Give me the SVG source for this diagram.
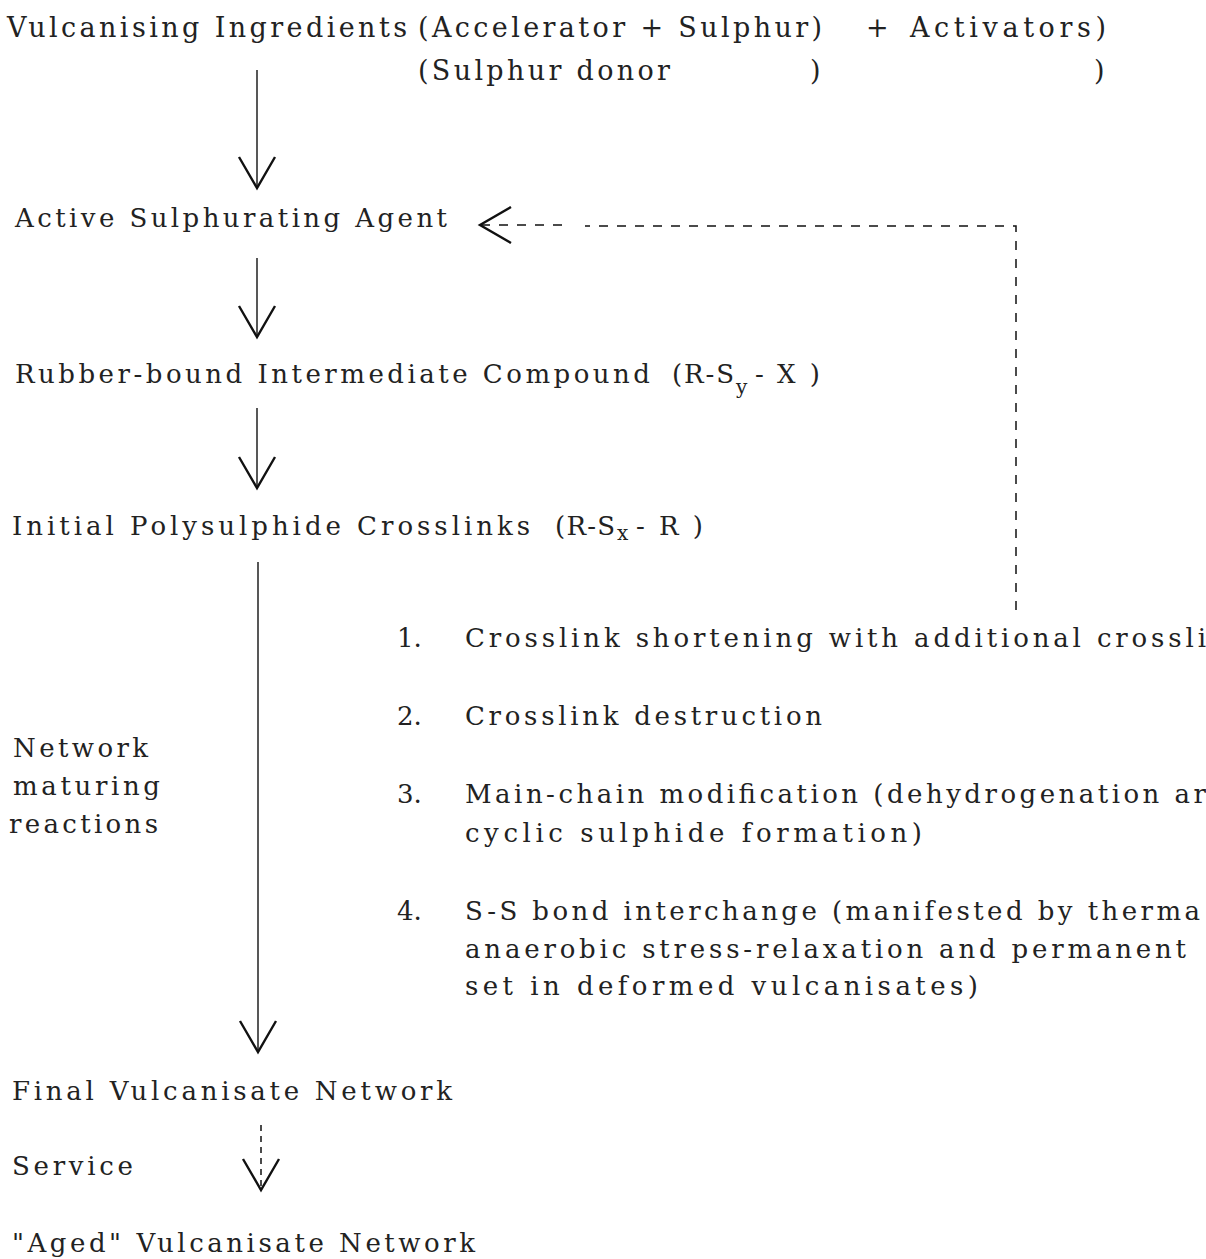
<svg xmlns="http://www.w3.org/2000/svg" width="1206" height="1259" viewBox="0 0 1206 1259">
<style>
text{font-family:"DejaVu Serif","Liberation Serif",serif;font-size:26px;fill:#222}
.top{font-size:27px}
.sub{font-size:20px}
.ln{stroke:#111;stroke-width:1.4;fill:none}
.dash{stroke:#111;stroke-width:1.5;fill:none;stroke-dasharray:9 9}
.dash2{stroke:#111;stroke-width:1.5;fill:none;stroke-dasharray:6 5}
</style>
<defs>
<marker id="vh" markerUnits="userSpaceOnUse" orient="auto" refX="0" refY="0" markerWidth="40" markerHeight="44" overflow="visible">
<path d="M-31,-18 L0,0 L-31,18" fill="none" stroke="#111" stroke-width="2.4" stroke-linejoin="miter"/>
</marker>
</defs>
<g id="ingredients">
<text class="top" x="7" y="37" textLength="400" lengthAdjust="spacing">Vulcanising Ingredients</text>
<text class="top" x="418" y="37" textLength="404" lengthAdjust="spacing">(Accelerator + Sulphur)</text>
<text class="top" x="866" y="37">+</text>
<text class="top" x="910" y="37" textLength="196" lengthAdjust="spacing">Activators)</text>
<text class="top" x="418" y="80" textLength="252" lengthAdjust="spacing">(Sulphur donor</text>
<text class="top" x="810" y="80">)</text>
<text class="top" x="1094" y="80">)</text>
</g>
<g id="agent">
<text x="15" y="227" textLength="432" lengthAdjust="spacing">Active Sulphurating Agent</text>
</g>
<g id="intermediate">
<text x="15" y="383" textLength="635" lengthAdjust="spacing">Rubber-bound Intermediate Compound</text>
<text x="672" y="383" textLength="62" lengthAdjust="spacing">(R-S</text>
<text class="sub" x="736" y="394">y</text>
<text x="755" y="383" textLength="65" lengthAdjust="spacing">-X)</text>
</g>
<g id="initial">
<text x="12" y="535" textLength="518" lengthAdjust="spacing">Initial Polysulphide Crosslinks</text>
<text x="555" y="535" textLength="60" lengthAdjust="spacing">(R-S</text>
<text class="sub" x="617" y="540">x</text>
<text x="636" y="535" textLength="67" lengthAdjust="spacing">-R)</text>
</g>
<g id="maturing-label">
<text x="13" y="757" textLength="135" lengthAdjust="spacing">Network</text>
<text x="13" y="795" textLength="147" lengthAdjust="spacing">maturing</text>
<text x="9" y="833" textLength="149" lengthAdjust="spacing">reactions</text>
</g>
<g id="reactions">
<text x="397" y="647">1.</text>
<text x="465" y="647" textLength="741" lengthAdjust="spacing">Crosslink shortening with additional crossli</text>
<text x="397" y="725">2.</text>
<text x="465" y="725" textLength="357" lengthAdjust="spacing">Crosslink destruction</text>
<text x="397" y="803">3.</text>
<text x="465" y="803" textLength="741" lengthAdjust="spacing">Main-chain modification (dehydrogenation ar</text>
<text x="465" y="842" textLength="457" lengthAdjust="spacing">cyclic sulphide formation)</text>
<text x="397" y="920">4.</text>
<text x="465" y="920" textLength="735" lengthAdjust="spacing">S-S bond interchange (manifested by therma</text>
<text x="465" y="958" textLength="721" lengthAdjust="spacing">anaerobic stress-relaxation and permanent</text>
<text x="465" y="995" textLength="513" lengthAdjust="spacing">set in deformed vulcanisates)</text>
</g>
<g id="final">
<text x="12" y="1100" textLength="440" lengthAdjust="spacing">Final Vulcanisate Network</text>
</g>
<g id="service-label">
<text x="12" y="1175" textLength="121" lengthAdjust="spacing">Service</text>
</g>
<g id="aged">
<text x="12" y="1252" textLength="463" lengthAdjust="spacing">"Aged" Vulcanisate Network</text>
</g>
<g id="connectors">
<line class="ln" x1="257" y1="70" x2="257" y2="188" marker-end="url(#vh)"/>
<line class="ln" x1="257" y1="258" x2="257" y2="337" marker-end="url(#vh)"/>
<line class="ln" x1="257" y1="408" x2="257" y2="488" marker-end="url(#vh)"/>
<line class="ln" x1="258" y1="562" x2="258" y2="1052" marker-end="url(#vh)"/>
<path class="dash" d="M1016,610 V226 H585"/>
<path class="dash" d="M562,225 H480" marker-end="url(#vh)"/>
<line class="dash2" x1="261" y1="1125" x2="261" y2="1190" marker-end="url(#vh)"/>
</g>
</svg>
